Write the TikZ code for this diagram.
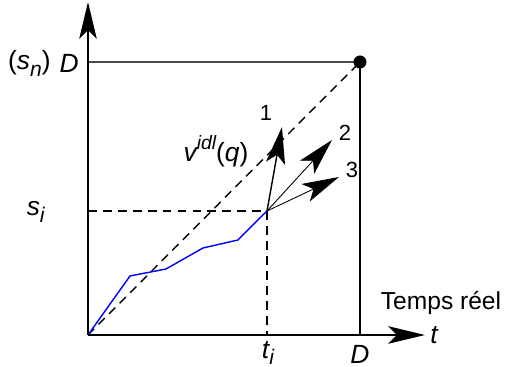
\documentclass[tikz,border=0pt]{standalone}
\usepackage{fontspec}
\setmainfont{Liberation Sans}
\usetikzlibrary{arrows.meta}
\newcommand\lowtxt[1]{\raisebox{-0.5ex}{\fontsize{12}{14}\selectfont #1}}
\newcommand\hightxt[1]{\raisebox{0.85ex}{\fontsize{11}{13}\selectfont #1}}
\begin{document}
\begin{tikzpicture}[x=0.02cm,y=-0.02cm,
    font=\fontsize{15}{18}\selectfont\itshape,
    bigtip/.style={-{Stealth[length=21pt,width=10pt,inset=5pt]}},
    vectip/.style={-{Stealth[length=21pt,width=11pt,inset=5pt]}}]
    \useasboundingbox (0,0) rectangle (505,367);
    \coordinate (O) at (88,335);
    \coordinate (Ytop) at (88,2);
    \coordinate (Xend) at (425,335);
    \coordinate (Dy) at (88,62);
    \coordinate (Dx) at (360,335);
    \coordinate (P) at (360,62);
    \coordinate (Si) at (88,211);
    \coordinate (Ti) at (267,335);
    \coordinate (Q) at (267,211);
    \coordinate (A1) at (282,127);
    \coordinate (A2) at (332,140);
    \coordinate (A3) at (339,177);
    % limits of the box
    \draw[gray!60!black, line width=0.6pt] (Dy) -- (P);
    \draw[line width=0.6pt] (P) -- (Dx);
    \draw[dashed, line width=0.8pt, dash pattern=on 5pt off 3.5pt] (O) -- (P);
    \draw[dashed, line width=0.8pt, dash pattern=on 5pt off 3.5pt] (Si) -- (Q) -- (Ti);
    % real progress
    \draw[blue, line width=0.8pt] (O) -- (130,276) -- (166,269) -- (203,248) -- (238,240) -- (Q);
    % axes
    \draw[line width=1.1pt, bigtip] (O) -- (Ytop);
    \draw[line width=1.1pt, bigtip] (O) -- (Xend);
    \fill (P) circle[radius=3.7pt];
    % possible speeds
    \draw[line width=0.8pt, vectip] (Q) -- (A1);
    \draw[line width=0.5pt, vectip] (Q) -- (A2);
    \draw[line width=0.5pt, vectip] (Q) -- (A3);
    \node[font=\fontsize{12.5}{14}\selectfont] (n1) at (266,113) {1};
    \node[font=\fontsize{12.5}{14}\selectfont] (n2) at (345,133) {2};
    \node[font=\fontsize{12.5}{14}\selectfont] (n3) at (352,170) {3};
    \node (vidl) at (216,151) {v\hightxt{idl}{\upshape(}q{\upshape)}};
    % labels on the axes
    \node[anchor=east, inner sep=0pt] (sn) at (51,63) {{\upshape(}s\lowtxt{n}{\upshape)}};
    \node[anchor=east, inner sep=0pt] (Dlab) at (79,63) {D};
    \node[anchor=east, inner sep=0pt] (silab) at (45,212) {s\lowtxt{i}};
    \node (tilab) at (268,353) {t\lowtxt{i}};
    \node (Dxlab) at (360,354) {D};
    \node[font=\fontsize{14}{16}\selectfont\upshape] (real) at (441,303) {Temps réel};
    \node[anchor=west, inner sep=0pt] (tlab) at (430,335) {t};
\end{tikzpicture}
\end{document}
